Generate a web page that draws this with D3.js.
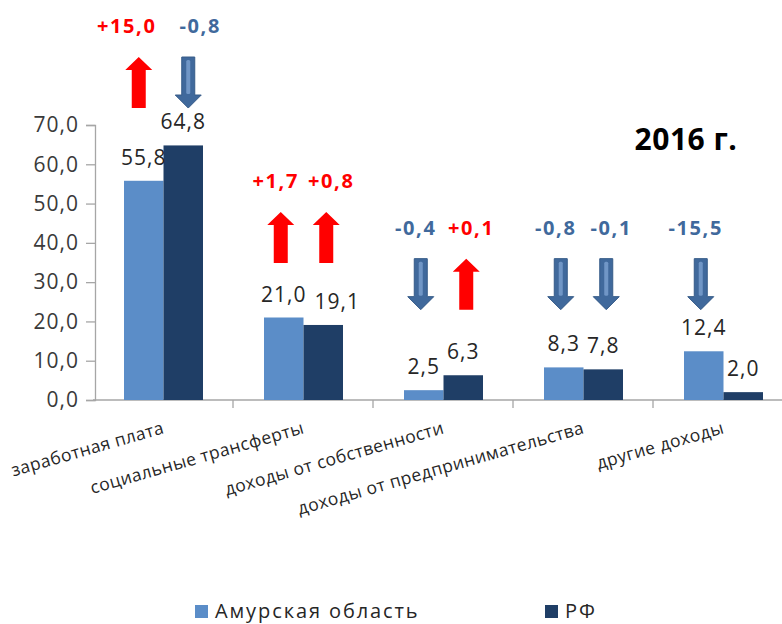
<!DOCTYPE html>
<html>
<head>
<meta charset="utf-8">
<script src="https://cdn.jsdelivr.net/npm/d3@7"></script>
<style>
  body { margin: 0; background: #fff; }
  svg { display: block; font-family: "Open Sans", sans-serif; }
</style>
</head>
<body>
<div class="chart-area"></div>
<script>
const width = 782
const height = 624

// data
const categories = ["заработная плата", "социальные трансферты", "доходы от собственности",
                    "доходы от предпринимательства", "другие доходы"]
const seriesNames = ["Амурская область", "РФ"]
const amurValues = [55.8, 21.0, 2.5, 8.3, 12.4]
const rfValues = [64.8, 19.1, 6.3, 7.8, 2.0]
// change vs. previous year (arrows), null = no note
const amurChange = [15.0, 1.7, -0.4, -0.8, -15.5]
const rfChange = [-0.8, 0.8, 0.1, -0.1, null]
const yTicks = [0, 10, 20, 30, 40, 50, 60, 70]
const title = "2016 г."

const colors = ["#5b8dc8", "#1f3e66"]
const upColor = "#ff0000"
const downColor = "#40699c"

const rows = categories.map((c, i) => ({
    cat: c,
    vals: [amurValues[i], rfValues[i]],
    changes: [amurChange[i], rfChange[i]]
}))

const fmt = v => d3.format(".1f")(v).replace(".", ",")
const fmtSigned = v => d3.format("+.1f")(v).replace(".", ",").replace("\u2212", "-")

const svg = d3.select(".chart-area").append("svg")
    .attr("width", width)
    .attr("height", height)

const x = d3.scaleBand()
    .domain(categories)
    .range([93, 793])

const xSub = d3.scaleBand()
    .domain(seriesNames)
    .range([31, 110])

const y = d3.scaleLinear()
    .domain([0, 70])
    .range([400, 125])

// y axis
const yAxis = svg.append("g")
    .attr("transform", "translate(95,0)")
    .call(d3.axisLeft(y).tickValues(yTicks).tickSize(9).tickPadding(7).tickFormat(fmt))
yAxis.select(".domain").attr("stroke", "#a6a6a6").attr("stroke-width", 1.3)
yAxis.selectAll(".tick line").attr("stroke", "#a6a6a6").attr("stroke-width", 1.3)
yAxis.selectAll(".tick text")
    .attr("fill", "#3a3a3a")
    .attr("font-size", 21)
    .attr("letter-spacing", 1)
    .attr("font-family", "Open Sans")

// x axis
const xAxis = svg.append("g")
    .attr("transform", "translate(0,400)")
xAxis.append("line")
    .attr("x1", 93).attr("x2", width)
    .attr("stroke", "#a6a6a6").attr("stroke-width", 1.3)
xAxis.selectAll("line.tick")
    .data(categories.slice(1))
    .enter()
    .append("line")
    .attr("class", "tick")
    .attr("x1", d => x(d)).attr("x2", d => x(d))
    .attr("y1", 0).attr("y2", 8)
    .attr("stroke", "#a6a6a6").attr("stroke-width", 1.3)

xAxis.selectAll("text")
    .data(categories)
    .enter()
    .append("text")
    .attr("transform", d => `translate(${x(d) + x.bandwidth() / 2 + 2},33) rotate(-16)`)
    .attr("text-anchor", "end")
    .attr("font-size", 17.5)
    .attr("letter-spacing", 0.4)
    .attr("fill", "#262626")
    .text(d => d)

// bars
const groups = svg.selectAll("g.group")
    .data(rows)
    .enter()
    .append("g")
    .attr("class", "group")
    .attr("transform", d => `translate(${x(d.cat)},0)`)

groups.selectAll("rect")
    .data(d => d.vals.map((v, i) => ({ v, s: seriesNames[i], i })))
    .enter()
    .append("rect")
    .attr("x", d => xSub(d.s))
    .attr("width", xSub.bandwidth())
    .attr("y", d => y(d.v))
    .attr("height", d => y(0) - y(d.v))
    .attr("fill", d => colors[d.i])

// value labels; the second one moves right if it would hit the first
groups.selectAll("text.value")
    .data(d => d.vals.map((v, i) => {
        const clash = i === 1 && fmt(v).length >= 4 && fmt(d.vals[0]).length >= 4 &&
                      Math.abs(y(v) - y(d.vals[0])) < 20
        return { v, s: seriesNames[i], i, shift: clash ? 14 : 0 }
    }))
    .enter()
    .append("text")
    .attr("class", "value")
    .attr("x", d => xSub(d.s) + xSub.bandwidth() / 2 + d.shift)
    .attr("y", d => y(d.v) - 16)
    .attr("text-anchor", "middle")
    .attr("font-size", 21)
    .attr("letter-spacing", 1)
    .attr("fill", "#262626")
    .text(d => fmt(d.v))

// change notes with arrows
const arrowPath = (cx, top, bottom, up) => {
    const sw = up ? 7 : 6.5, hw = up ? 13.5 : 13, hh = 13
    if (up) {
        return `M${cx - sw},${bottom} L${cx + sw},${bottom} L${cx + sw},${top + hh} L${cx + hw},${top + hh}
                L${cx},${top} L${cx - hw},${top + hh} L${cx - sw},${top + hh} Z`
    }
    return `M${cx - sw},${top} L${cx + sw},${top} L${cx + sw},${bottom - hh} L${cx + hw},${bottom - hh}
            L${cx},${bottom} L${cx - hw},${bottom - hh} L${cx - sw},${bottom - hh} Z`
}

rows.forEach(row => {
    const g = svg.append("g").attr("transform", `translate(${x(row.cat)},0)`)
    const maxV = d3.max(row.vals)
    // notes sit at a common level unless the bars reach above it
    const level = maxV > 15 ? 0.9 * maxV + 16 : 23
    const arrowBottom = y(level)
    const arrowTop = arrowBottom - 51
    const wide = row.changes.some(c => c !== null && Math.abs(c) >= 10) && row.changes.every(c => c !== null)
    row.changes.forEach((c, i) => {
        if (c === null) return
        const bc = xSub(seriesNames[i]) + xSub.bandwidth() / 2
        const side = i === 0 ? -1 : 1
        const up = c > 0
        const ac = bc + side * (wide ? 5 : 3)
        const tc = bc + side * (wide ? 17 : 8)
        g.append("path")
            .attr("d", arrowPath(ac, arrowTop, arrowBottom, up))
            .attr("fill", up ? upColor : downColor)
            .attr("stroke", up ? "none" : "#365b88")
            .attr("stroke-width", 1)
        if (!up) {
            g.append("rect")
                .attr("x", ac - 2).attr("width", 4)
                .attr("y", arrowTop + 3).attr("height", arrowBottom - 13 - arrowTop - 4)
                .attr("fill", "#7096c6")
                .attr("rx", 1.5)
        }
        g.append("text")
            .attr("x", tc)
            .attr("y", arrowTop - 24)
            .attr("text-anchor", "middle")
            .attr("font-size", 20)
            .attr("font-weight", "bold")
            .attr("letter-spacing", 1.6)
            .attr("fill", up ? upColor : downColor)
            .text(fmtSigned(c))
    })
})

// title
svg.append("text")
    .attr("x", 686)
    .attr("y", 150)
    .attr("text-anchor", "middle")
    .attr("font-size", 30)
    .attr("font-weight", "bold")
    .attr("letter-spacing", 0.5)
    .attr("fill", "#000")
    .text(title)

// legend
const legendX = [195, 545]
const legend = svg.selectAll("g.legend")
    .data(seriesNames)
    .enter()
    .append("g")
    .attr("class", "legend")
    .attr("transform", (d, i) => `translate(${legendX[i]},605)`)
legend.append("rect")
    .attr("width", 13).attr("height", 13)
    .attr("fill", (d, i) => colors[i])
legend.append("text")
    .attr("x", 20)
    .attr("y", 13)
    .attr("font-size", 20)
    .attr("letter-spacing", 1.9)
    .attr("fill", "#262626")
    .text(d => d)
</script>
</body>
</html>
